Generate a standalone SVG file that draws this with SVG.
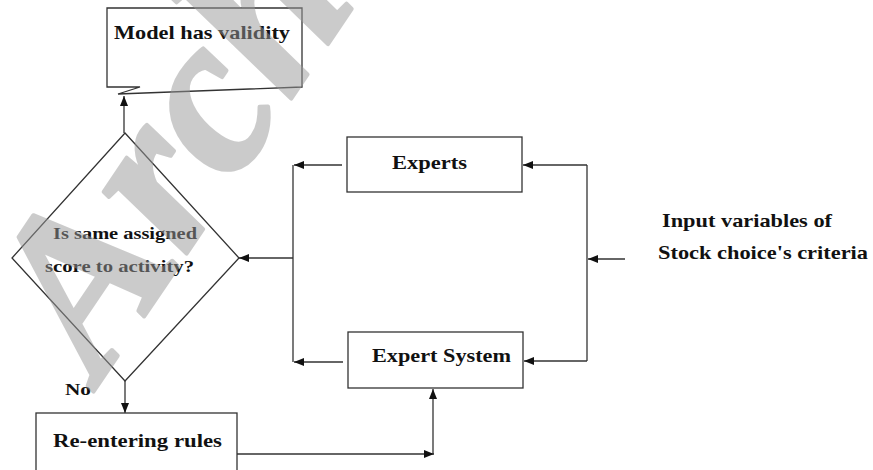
<svg xmlns="http://www.w3.org/2000/svg" width="873" height="470" viewBox="0 0 873 470">
<style>
.box{fill:#fff;stroke:#333;stroke-width:1.3}
.ln{fill:none;stroke:#333;stroke-width:1.3}
.t{font-family:"Liberation Serif","Times New Roman",serif;font-weight:bold;fill:#111}
.wm{font-family:"Liberation Serif","Times New Roman",serif;font-weight:bold;font-style:italic;fill:#999;stroke:#999;stroke-width:4;stroke-linejoin:round}
</style>
<defs>
<marker id="ah" viewBox="0 0 10 8" refX="10" refY="4" markerWidth="10" markerHeight="8" markerUnits="userSpaceOnUse" orient="auto">
<path d="M0,0 L10,4 L0,8 Z" fill="#111"/>
</marker>
</defs>
<rect width="873" height="470" fill="#fff"/>
<g id="connectors">
<line class="ln" x1="124" y1="133" x2="124" y2="96" marker-end="url(#ah)"/>
<line class="ln" x1="293" y1="258" x2="239" y2="258" marker-end="url(#ah)"/>
<line class="ln" x1="293" y1="165" x2="293" y2="362"/>
<line class="ln" x1="342" y1="165" x2="294" y2="165" marker-end="url(#ah)"/>
<line class="ln" x1="343" y1="362" x2="294" y2="362" marker-end="url(#ah)"/>
<line class="ln" x1="587" y1="165" x2="587" y2="361"/>
<line class="ln" x1="587" y1="165" x2="523" y2="165" marker-end="url(#ah)"/>
<line class="ln" x1="587" y1="361" x2="524" y2="361" marker-end="url(#ah)"/>
<line class="ln" x1="625" y1="259" x2="588" y2="259" marker-end="url(#ah)"/>
<line class="ln" x1="125" y1="381" x2="125" y2="413" marker-end="url(#ah)"/>
<line class="ln" x1="237" y1="454" x2="434" y2="454" marker-end="url(#ah)"/>
<line class="ln" x1="433" y1="454" x2="433" y2="389" marker-end="url(#ah)"/>
</g>
<g id="model">
<path class="box" d="M107,8 H302 V87 L118,94 L140,87 H107 Z"/>
<text class="t" x="114" y="39" font-size="19" textLength="176" lengthAdjust="spacingAndGlyphs">Model has validity</text>
</g>
<g id="decision">
<path class="box" d="M125,133 L239,258 L125,381 L12,258 Z"/>
<text class="t" x="53" y="239" font-size="17" textLength="144" lengthAdjust="spacingAndGlyphs">Is same assigned</text>
<text class="t" x="45" y="272" font-size="17" textLength="149" lengthAdjust="spacingAndGlyphs">score to activity?</text>
</g>
<g id="experts">
<rect class="box" x="347" y="137" width="175" height="55"/>
<text class="t" x="392" y="169" font-size="19" textLength="75" lengthAdjust="spacingAndGlyphs">Experts</text>
</g>
<g id="expert-system">
<rect class="box" x="348" y="332" width="175" height="56"/>
<text class="t" x="372" y="362" font-size="19" textLength="139" lengthAdjust="spacingAndGlyphs">Expert System</text>
</g>
<g id="input">
<text class="t" x="662" y="227" font-size="19" textLength="170" lengthAdjust="spacingAndGlyphs">Input variables of</text>
<text class="t" x="658" y="259" font-size="19" textLength="210" lengthAdjust="spacingAndGlyphs">Stock choice's criteria</text>
</g>
<g id="reentering">
<rect class="box" x="36" y="413" width="201" height="70"/>
<text class="t" x="53" y="447" font-size="19" textLength="169" lengthAdjust="spacingAndGlyphs">Re-entering rules</text>
</g>
<g id="no-label">
<text class="t" x="65" y="395" font-size="17" textLength="26" lengthAdjust="spacingAndGlyphs">No</text>
</g>
<g id="watermark" opacity="0.5">
<text class="wm" x="0" y="0" font-size="225" transform="translate(100,382) rotate(-56)">Archive</text>
</g>
</svg>
